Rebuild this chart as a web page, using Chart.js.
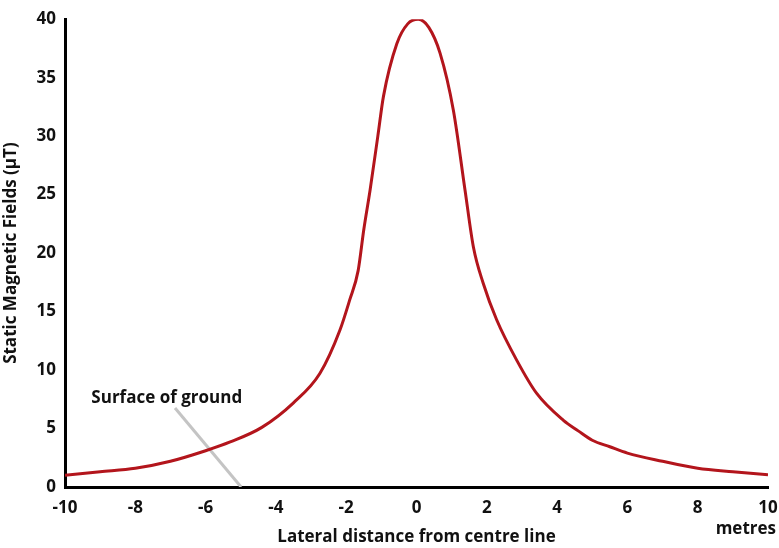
<!DOCTYPE html>
<html>
<head>
<meta charset="utf-8">
<script src="https://cdn.jsdelivr.net/npm/chart.js@4/dist/chart.umd.min.js"></script>
<style>
  html, body { margin: 0; padding: 0; background: #fff; }
  #wrap { width: 779px; height: 548px; }
</style>
</head>
<body>
<div id="wrap"><canvas id="chart" width="779" height="548"></canvas></div>
<script>
// Lateral distance (m) and field strength (uT)
const distances = [-10, -9, -8, -7, -6, -5.3, -4.4, -3.5, -2.75, -2.18, -1.9, -1.66, -1.5, -1.32, -1.1, -0.94, -0.56, -0.25, 0.05, 0.35, 0.67, 1.05, 1.38, 1.62, 1.9, 2.28, 2.85, 3.42, 4.18, 4.6, 5, 5.5, 6, 7, 8, 9, 10];
const fieldValues = [1.0, 1.3, 1.6, 2.2, 3.1, 3.85, 5.1, 7.2, 9.7, 13.4, 16.0, 18.5, 22.0, 25.4, 30.0, 33.4, 37.9, 39.6, 40, 39.3, 37.1, 32.2, 25.4, 20.5, 17.4, 14.3, 10.85, 8.0, 5.7, 4.8, 4.0, 3.44, 2.9, 2.2, 1.6, 1.3, 1.05];

// "Surface of ground" pointer line
const groundLineX = [-6.87, -4.99];
const groundLineY = [6.75, 0];

const xTicks = [-10, -8, -6, -4, -2, 0, 2, 4, 6, 8, 10];
const yTicks = [0, 5, 10, 15, 20, 25, 30, 35, 40];

const fontFamily = '"Open Sans", "DejaVu Sans", sans-serif';

const curve = distances.map((d, i) => ({ x: d, y: fieldValues[i] }));
const groundLine = groundLineX.map((d, i) => ({ x: d, y: groundLineY[i] }));

// extra labels: pointer text and unit
const labelsPlugin = {
    id: 'extraLabels',
    afterDraw(chart) {
        const ctx = chart.ctx;
        const xs = chart.scales.x;
        const ys = chart.scales.y;
        ctx.save();
        ctx.fillStyle = '#111';
        ctx.font = 'bold 17px ' + fontFamily;
        ctx.textBaseline = 'middle';
        ctx.textAlign = 'left';
        ctx.fillText('Surface of ground', xs.getPixelForValue(-9.25), ys.getPixelForValue(7.6));
        ctx.textAlign = 'right';
        ctx.fillText('metres', chart.width - 3, 529);
        ctx.restore();
    }
};

new Chart(document.getElementById('chart'), {
    type: 'scatter',
    data: {
        datasets: [{
            data: groundLine,
            showLine: true,
            borderColor: '#c4c4c4',
            borderWidth: 3,
            pointRadius: 0,
            order: 2
        }, {
            data: curve,
            showLine: true,
            borderColor: '#b3151c',
            borderWidth: 3,
            pointRadius: 0,
            cubicInterpolationMode: 'monotone',
            order: 1
        }]
    },
    plugins: [labelsPlugin],
    options: {
        responsive: false,
        animation: false,
        events: [],
        layout: { padding: { top: 19, right: 0, left: 0, bottom: 0 } },
        plugins: {
            legend: { display: false },
            tooltip: { enabled: false }
        },
        scales: {
            x: {
                type: 'linear',
                min: -10,
                max: 10,
                afterBuildTicks: (s) => { s.ticks = xTicks.map(v => ({ value: v })); },
                afterFit: (s) => { s.height = 61; s.paddingRight = 11; s.paddingLeft = 0; },
                grid: { display: false, drawTicks: false },
                border: { display: true, color: '#000', width: 3 },
                ticks: {
                    padding: 11,
                    color: '#111',
                    font: { family: fontFamily, size: 17, weight: 'bold' }
                },
                title: {
                    display: true,
                    text: 'Lateral distance from centre line',
                    color: '#111',
                    padding: { top: 0, bottom: 1 },
                    font: { family: fontFamily, size: 17, weight: 'bold' }
                }
            },
            y: {
                min: 0,
                max: 40,
                afterBuildTicks: (s) => { s.ticks = yTicks.map(v => ({ value: v })); },
                afterFit: (s) => { s.width = 65; },
                grid: { display: false, drawTicks: false },
                border: { display: true, color: '#000', width: 3 },
                ticks: {
                    padding: 9,
                    color: '#111',
                    font: { family: fontFamily, size: 17, weight: 'bold' }
                },
                title: {
                    display: true,
                    text: 'Static Magnetic Fields (μT)',
                    color: '#111',
                    padding: { top: 1, bottom: 0 },
                    font: { family: fontFamily, size: 17, weight: 'bold' }
                }
            }
        }
    }
});
</script>
</body>
</html>
